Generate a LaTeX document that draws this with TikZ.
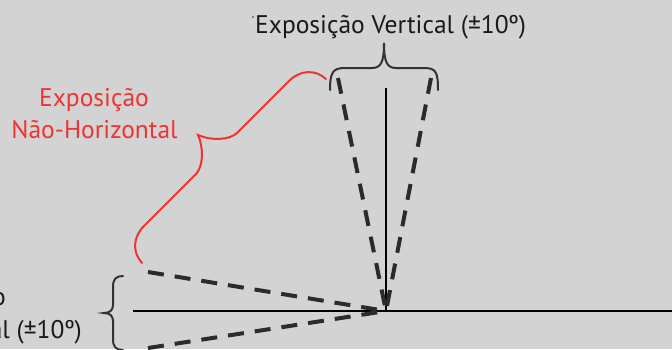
\documentclass[tikz,border=0pt]{standalone}
\usepackage{fontspec}
\setmainfont{PT Sans}
\definecolor{bg}{HTML}{D3D3D3}
\definecolor{redtxt}{HTML}{EE3333}
\definecolor{dashc}{HTML}{2B2B2B}
\definecolor{bracec}{HTML}{333333}
\tikzset{
  lbl/.style={inner sep=0pt, font=\fontsize{25.5}{30}\selectfont, text=black!90},
  redlbl/.style={lbl, text=redtxt},
  axisline/.style={line width=2pt, black},
  dashray/.style={line width=4pt, dashc, dash pattern=on 16pt off 11pt},
  bracek/.style={line width=2pt, bracec, line cap=round},
  bracer/.style={line width=2pt, redtxt, line cap=round},
}
\begin{document}
\begin{tikzpicture}[x=1pt,y=-1pt]
\useasboundingbox (0,0) rectangle (672,349);
\fill[bg] (0,0) rectangle (672,349);
\clip (0,0) rectangle (672,349);

% coordinates
\coordinate (O) at (386,311);
\coordinate (Hend) at (672,311);
\coordinate (Hstart) at (133,311);
\coordinate (Vtop) at (386,88);
\coordinate (DL) at (338,78);
\coordinate (DR) at (431,78);
\coordinate (DU) at (148,272);
\coordinate (DD) at (148,348);

% axes
\draw[axisline] (Hstart) -- (Hend);
\draw[axisline] (Vtop) -- (O);

% dashed rays
\draw[dashray] (DL) -- (O);
\draw[dashray] (DR) -- (O);
\draw[dashray] (DU) -- (O);
\draw[dashray] (DD) -- (O);

% top brace
\coordinate (TB1) at (330,90);
\coordinate (TB2) at (438,90);
\draw[bracek] (TB1) .. controls (330,72) and (333,68) .. (345,68) -- (372,68)
  .. controls (381,68) and (384,62) .. (384,43)
  .. controls (384,62) and (387,68) .. (396,68) -- (424,68)
  .. controls (436,68) and (438,72) .. (TB2);

% left brace
\coordinate (LB1) at (123,276);
\coordinate (LB2) at (123,350);
\draw[bracek] (LB1) .. controls (116,276) and (113,279) .. (113,287) -- (113,305)
  .. controls (113,310) and (110,313) .. (104,313)
  .. controls (110,313) and (113,316) .. (113,321) -- (113,339)
  .. controls (113,347) and (116,350) .. (LB2);

% red brace
\coordinate (RB1) at (142,263);
\coordinate (RB2) at (326,79);
\draw[bracer] (RB1) .. controls (132,252) and (133,237) .. (144,226) -- (196,174)
  .. controls (203,167) and (204,148) .. (198,135)
  .. controls (211,141) and (230,140) .. (237,133) -- (289,81)
  .. controls (300,70) and (315,69) .. (RB2);

% labels
\node[lbl, anchor=base west] (vt) at (255,33) {Exposição Vertical (±10º)};
\fill[black!80] (253,17) circle (0.8);

\node[redlbl, anchor=base] (nh1) at (94,106) {Exposição};
\node[redlbl, anchor=base] (nh2) at (94.5,138) {Não-Horizontal};

\node[lbl, anchor=base east] (hz2) at (82,338) {Horizontal (±10º)};
\node[lbl, anchor=base west] (hz1) at (hz2.west |- 0,305) {Exposição};
\end{tikzpicture}
\end{document}
